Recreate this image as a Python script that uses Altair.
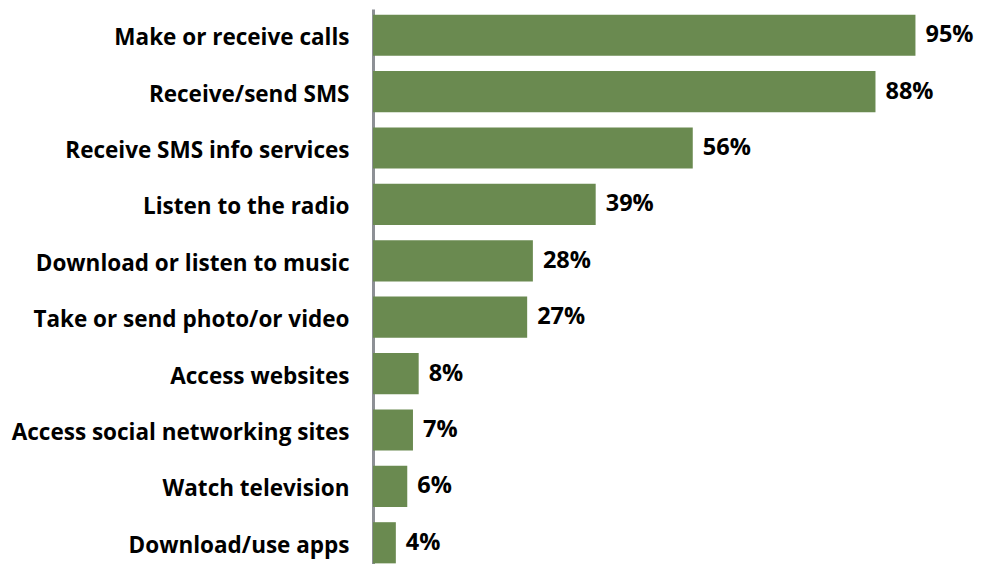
import altair as alt
import pandas as pd

categories = [
    "Make or receive calls",
    "Receive/send SMS",
    "Receive SMS info services",
    "Listen to the radio",
    "Download or listen to music",
    "Take or send photo/or video",
    "Access websites",
    "Access social networking sites",
    "Watch television",
    "Download/use apps",
]
values = [95, 88, 56, 39, 28, 27, 8, 7, 6, 4]
labels = [f"{v}%" for v in values]

df = pd.DataFrame({"activity": categories, "value": values, "label": labels})

FONT = "Open Sans"
WIDTH = 601
XMAX = WIDTH / 5.71

x = alt.X("value:Q", scale=alt.Scale(domain=[0, XMAX], nice=False, zero=True), axis=None)
y = alt.Y(
    "activity:N",
    sort=categories,
    scale=alt.Scale(paddingInner=0.27, paddingOuter=0.1),
    axis=alt.Axis(
        title=None,
        ticks=False,
        grid=False,
        domainColor="#8d9095",
        domainWidth=3,
        labelFont=FONT,
        labelFontSize=22.5,
        labelFontWeight="bold",
        labelColor="#000000",
        labelPadding=24,
        labelOffset=3,
        labelLimit=400,
    ),
)

bars = alt.Chart(df).mark_bar(color="#6a8a50").encode(x=x, y=y)
text = alt.Chart(df).mark_text(
    align="left", baseline="middle", dx=10, font=FONT, fontSize=23.5, fontWeight="bold", color="#000000"
).encode(x=x, y=y, text="label:N")

chart = (
    (bars + text)
    .properties(
        width=WIDTH,
        height=560,
        autosize=alt.AutoSizeParams(type="none"),
        padding={"left": 365, "top": 1, "right": 0, "bottom": 0},
        background="white",
    )
    .configure_view(stroke=None)
)

chart.save("out.html", embed_options={"renderer": "svg", "actions": False})
